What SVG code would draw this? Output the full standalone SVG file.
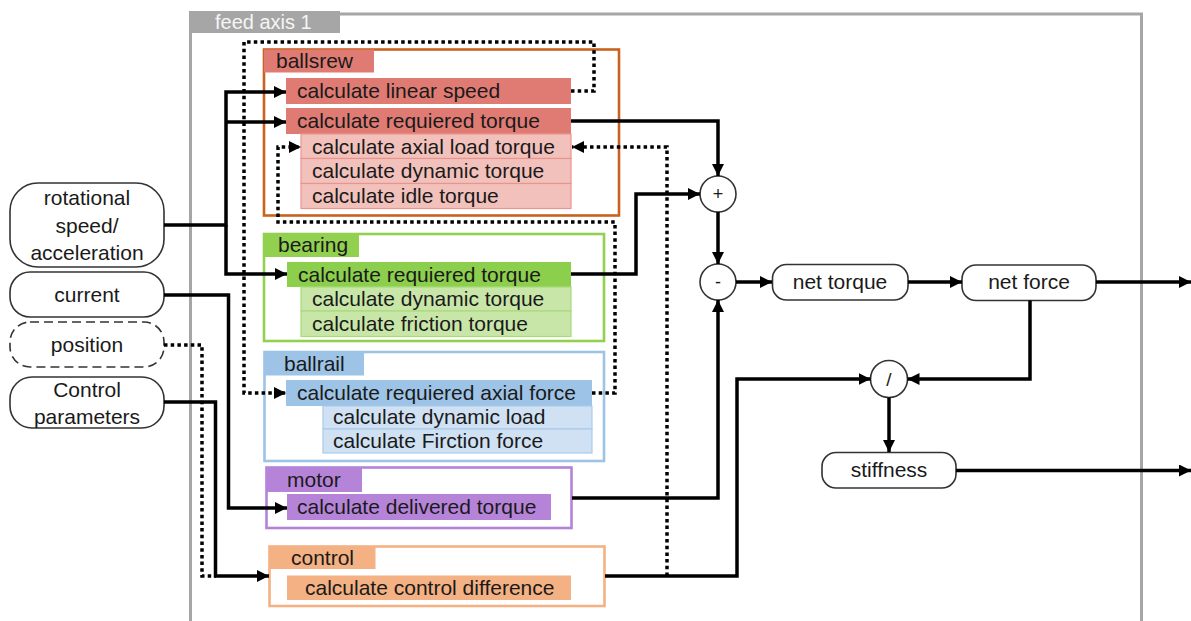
<svg xmlns="http://www.w3.org/2000/svg" width="1191" height="621" viewBox="0 0 1191 621">
<defs>
<marker id="ah" markerUnits="userSpaceOnUse" markerWidth="12" markerHeight="12" refX="12" refY="6" orient="auto"><path d="M0,0 L12,6 L0,12 z" fill="#000"/></marker>
<style>
text{font-family:"Liberation Sans",Arial,sans-serif;font-size:21px;fill:#1a1a1a}
.c{text-anchor:middle}
.node{fill:#fff;stroke:#333;stroke-width:1.6}
.dash{stroke-dasharray:9 5}
.w{fill:none;stroke:#000;stroke-width:3.5;marker-end:url(#ah)}
.wn{fill:none;stroke:#000;stroke-width:3.5}
.d{fill:none;stroke:#000;stroke-width:3.5;stroke-dasharray:3.5 3.2}
.box{fill:#fff;stroke-width:2.6}
</style>
</defs>
<rect width="1191" height="621" fill="#fff"/>
<g id="feed-axis">
<rect x="190.5" y="14" width="951" height="640" fill="none" stroke="#a6a6a6" stroke-width="3"/>
<rect x="189" y="11" width="151" height="22" fill="#a6a6a6"/>
<text x="215" y="29" style="fill:#f5f5f5;font-size:20px">feed axis 1</text>
</g>
<g id="ballsrew">
<rect class="box" x="264" y="49.5" width="355" height="166" stroke="#c9611f"/>
<rect x="264" y="49.5" width="110" height="23" fill="#e07b74"/>
<text x="276" y="68">ballsrew</text>
<rect x="286" y="78" width="285" height="26" fill="#e07b74"/>
<text x="297" y="98">calculate linear speed</text>
<rect x="286" y="108" width="285" height="26" fill="#e07b74"/>
<text x="297" y="128">calculate requiered torque</text>
<g fill="#f2c1bc" stroke="#e9958e" stroke-width="1.2">
<rect x="301" y="134" width="270" height="24.5"/>
<rect x="301" y="158.5" width="270" height="25"/>
<rect x="301" y="183.5" width="270" height="25"/>
</g>
<text x="312" y="153.5">calculate axial load torque</text>
<text x="312" y="178">calculate dynamic torque</text>
<text x="312" y="203">calculate idle torque</text>
</g>
<g id="bearing">
<rect class="box" x="264" y="234" width="340" height="107" stroke="#92d050"/>
<rect x="264" y="234" width="95" height="23" fill="#92d050"/>
<text x="278" y="252">bearing</text>
<rect x="287" y="262" width="284" height="25" fill="#8ccf4c"/>
<text x="298" y="281.5">calculate requiered torque</text>
<g fill="#c9e6a9" stroke="#a9d97c" stroke-width="1.2">
<rect x="301" y="287" width="270" height="24"/>
<rect x="301" y="311" width="270" height="25.5"/>
</g>
<text x="312" y="306">calculate dynamic torque</text>
<text x="312" y="331">calculate friction torque</text>
</g>
<g id="ballrail">
<rect class="box" x="264.5" y="352" width="339.5" height="109" stroke="#9dc3e6"/>
<rect x="264.5" y="352" width="99.5" height="23.5" fill="#9dc3e6"/>
<text x="284" y="371">ballrail</text>
<rect x="286" y="380" width="306" height="26" fill="#9dc3e6"/>
<text x="297" y="400">calculate requiered axial force</text>
<g fill="#cfe1f3" stroke="#aacbea" stroke-width="1.2">
<rect x="323" y="406" width="269" height="23"/>
<rect x="323" y="429" width="269" height="24"/>
</g>
<text x="333" y="424">calculate dynamic load</text>
<text x="333" y="448">calculate Firction force</text>
</g>
<g id="motor">
<rect class="box" x="266.5" y="467.5" width="305" height="60.5" stroke="#b482d8"/>
<rect x="266.5" y="467.5" width="95.5" height="24.5" fill="#b584d9"/>
<text x="287" y="487">motor</text>
<rect x="287" y="494" width="264" height="26" fill="#b584d9"/>
<text x="297" y="514">calculate delivered torque</text>
</g>
<g id="control">
<rect class="box" x="269.5" y="546.5" width="335" height="59.5" stroke="#f4b183"/>
<rect x="269.5" y="546.5" width="106" height="22.5" fill="#f4b183"/>
<text x="291" y="565">control</text>
<rect x="287" y="575.5" width="284" height="24.5" fill="#f4b183"/>
<text x="305" y="595">calculate control difference</text>
</g>
<g id="rotational-speed">
<rect class="node" x="10" y="183" width="154" height="84" rx="28"/>
<text class="c" x="87" y="205">rotational</text>
<text class="c" x="87" y="233">speed/</text>
<text class="c" x="87" y="260">acceleration</text>
</g>
<g id="current">
<rect class="node" x="10" y="272" width="154" height="45" rx="20"/>
<text class="c" x="87" y="302">current</text>
</g>
<g id="position">
<rect class="node dash" x="10" y="322" width="154" height="45" rx="20"/>
<text class="c" x="87" y="352">position</text>
</g>
<g id="control-parameters">
<rect class="node" x="10" y="377" width="154" height="51" rx="22"/>
<text class="c" x="87" y="397">Control</text>
<text class="c" x="87" y="424">parameters</text>
</g>
<g id="plus">
<circle class="node" cx="718" cy="194" r="18"/>
<text class="c" x="718" y="200" style="font-size:18px">+</text>
</g>
<g id="minus">
<circle class="node" cx="718" cy="282" r="18"/>
<text class="c" x="718" y="288" style="font-size:18px">-</text>
</g>
<g id="divide">
<circle class="node" cx="889" cy="379" r="18.5"/>
<text class="c" x="889" y="386" style="font-size:19px">/</text>
</g>
<g id="net-torque">
<rect class="node" x="772.5" y="264.5" width="135.5" height="35.5" rx="14"/>
<text class="c" x="840" y="289">net torque</text>
</g>
<g id="net-force">
<rect class="node" x="962" y="265" width="134" height="35.5" rx="14"/>
<text class="c" x="1029" y="289">net force</text>
</g>
<g id="stiffness">
<rect class="node" x="822" y="452.5" width="134" height="35.5" rx="14"/>
<text class="c" x="889" y="477">stiffness</text>
</g>
<g id="connectors">
<path class="w" d="M164,225 H226 V92 H286"/>
<path class="w" d="M226,122 H286"/>
<path class="w" d="M226,225 V274 H287"/>
<path class="w" d="M164,295 H228.5 V508 H287"/>
<path class="d" d="M164,345 H202 V576 H216"/>
<path class="w" d="M164,402 H215.5 V576 H269"/>
<path class="w" d="M571,121 H718 V176"/>
<path class="w" d="M571,274 H636 V194 H700"/>
<path class="w" d="M718,212 V264"/>
<path class="w" d="M736,282 H772"/>
<path class="w" d="M908,282 H962"/>
<path class="w" d="M1096,282 H1191"/>
<path class="w" d="M1030,300.5 V379 H907.5"/>
<path class="w" d="M572,498 H718 V300"/>
<path class="w" d="M605,576 H737 V379 H870.5"/>
<path class="w" d="M889,397.5 V452"/>
<path class="w" d="M956,470.5 H1191"/>
<path class="d" d="M571,91 H594 V42 H244 V393 H286" marker-end="url(#ah)"/>
<path class="d" d="M592,393 H615 V222 H278 V147 H301" marker-end="url(#ah)"/>
<path class="d" d="M667,576 V147 H572" marker-end="url(#ah)"/>
</g>
</svg>
